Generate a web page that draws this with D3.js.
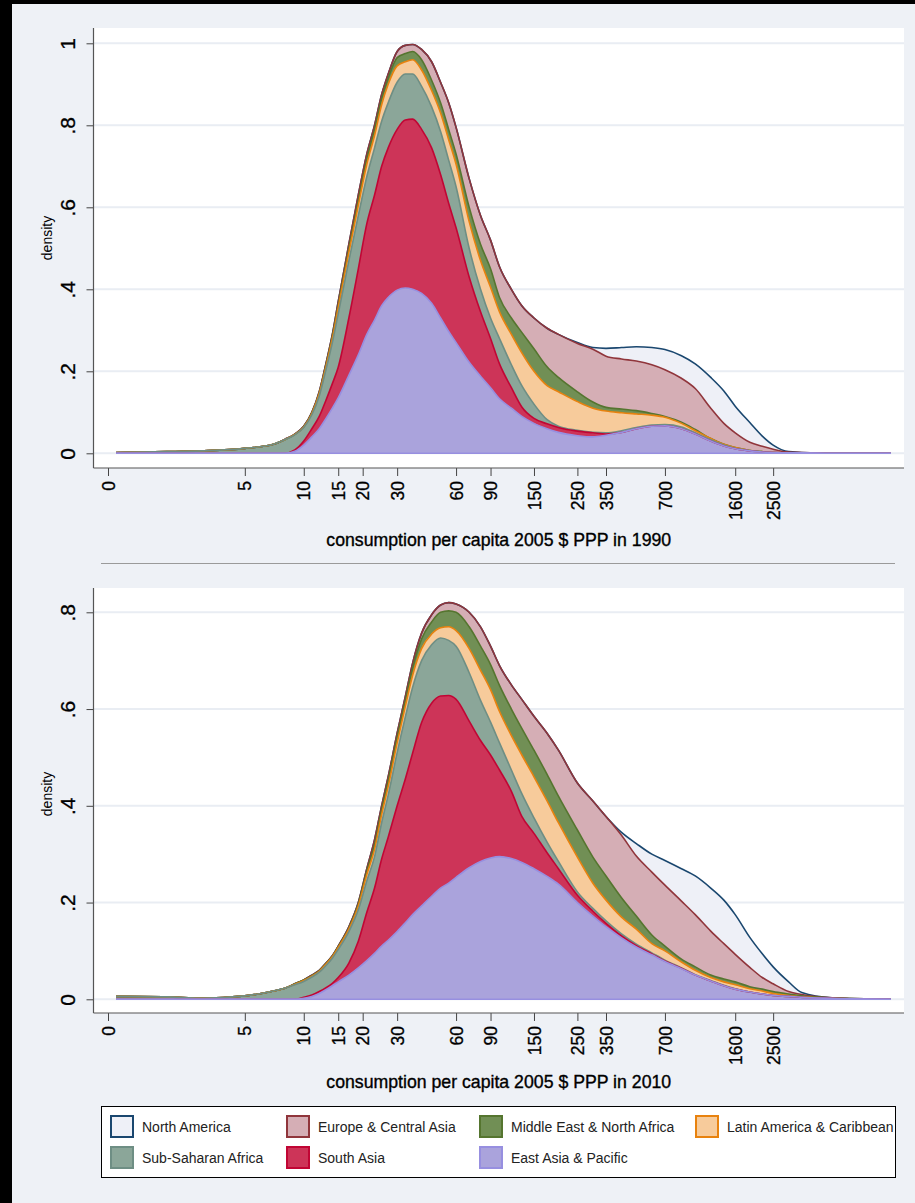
<!DOCTYPE html>
<html>
<head>
<meta charset="utf-8">
<script src="https://cdn.jsdelivr.net/npm/d3@7"></script>
<style>
body { margin: 0; background: #000; }
svg { display: block; font-family: "Liberation Sans", Arial, sans-serif; }
</style>
</head>
<body>
<svg id="chart" width="915" height="1203"></svg>
<script>
var consumption = [1.1, 2, 3, 5, 7, 8, 9, 10, 11, 12, 13, 14, 15, 17, 19, 21, 23, 25, 27, 30, 33, 36, 40, 45, 50, 55, 60,
  70, 80, 90, 100, 115, 130, 150, 175, 200, 250, 300, 350, 420, 500, 600, 700, 850, 1000,
  1200, 1400, 1600, 1900, 2200, 2500, 3000, 3500, 5000, 10000];

// stacking order, bottom to top
var regions = ["East Asia & Pacific", "South Asia", "Sub-Saharan Africa", "Latin America & Caribbean",
  "Middle East & North Africa", "Europe & Central Asia", "North America"];
var fills   = ["#aaa3dc", "#cd3458", "#8ba699", "#f7cb9b", "#718f55", "#d5aeb5", "#eef0f7"];
var strokes = ["#978fe0", "#c10534", "#6e8e84", "#e8820e", "#55752f", "#90353b", "#1a476f"];

// 1990
var eap1990  = [0,0,0,0,0,0,.005,.02,.04,.06,.085,.11,.135,.19,.24,.29,.325,.36,.38,.398,.403,.40,.39,.366,.33,.297,.27,
  .222,.188,.16,.133,.11,.09,.073,.06,.051,.043,.04,.044,.051,.06,.066,.067,.06,.047,.03,.018,.011,.006,.003,.002,.001,.001,0,0];
var sa1990   = [0,0,0,0,0,0,.003,.01,.02,.03,.045,.06,.075,.14,.21,.27,.305,.34,.365,.392,.41,.415,.40,.379,.35,.313,.28,
  .208,.157,.12,.085,.05,.023,.012,.012,.012,.011,.01,.003,0,0,0,0,0,0,0,0,0,0,0,0,0,0,0,0];
var ssa1990  = [.002,.004,.006,.012,.022,.033,.037,.033,.034,.05,.075,.10,.13,.14,.13,.115,.115,.11,.11,.115,.112,.11,.105,.10,.105,.105,.10,
  .07,.055,.05,.062,.056,.052,.035,.01,.003,.002,.001,.003,.004,.003,.003,.003,.004,.003,.003,.002,.001,.001,.001,0,0,0,0,0];
var lac1990  = [0,0,0,0,0,0,.001,.001,.003,.005,.007,.01,.015,.02,.025,.03,.03,.04,.045,.04,.03,.035,.04,.04,.045,.05,.055,
  .065,.07,.075,.065,.074,.08,.08,.083,.084,.07,.059,.053,.044,.033,.024,.018,.009,.005,.003,.002,.002,0,0,0,0,0,0,0];
var mena1990 = [0,0,0,0,0,0,0,.001,.001,.002,.004,.005,.007,.01,.012,.013,.015,.015,.015,.02,.02,.02,.025,.025,.025,.025,.025,
  .035,.04,.045,.035,.04,.05,.055,.046,.035,.024,.015,.009,.009,.008,.004,.002,.003,.003,0,0,0,0,0,0,0,0,0,0];
var eca1990  = [0,0,0,0,0,.001,.001,.001,.002,.003,.004,.005,.008,.01,.013,.012,.01,.01,.01,.015,.02,.017,.025,.045,.05,.065,.065,
  .07,.07,.07,.075,.07,.065,.075,.094,.105,.118,.129,.125,.122,.121,.119,.114,.107,.10,.074,.051,.036,.02,.013,.008,.002,.001,0,0];
var na1990   = [0,0,0,0,0,0,0,0,0,0,0,0,0,0,0,0,0,0,0,0,0,0,0,0,0,0,0,
  0,0,0,0,0,0,0,0,0,.002,.004,.019,.028,.035,.042,.049,.055,.06,.075,.079,.065,.048,.025,.01,.001,0,0,0];

// 2010
var eap2010  = [0,0,0,0,0,0,0,.002,.006,.012,.02,.028,.036,.05,.065,.08,.095,.11,.122,.14,.158,.175,.193,.213,.23,.24,.252,
  .272,.285,.292,.295,.291,.283,.27,.254,.238,.20,.172,.15,.127,.108,.092,.078,.063,.05,.038,.028,.021,.015,.011,.008,.006,.004,.002,0];
var sa2010   = [0,0,0,0,0,0,0,.002,.003,.004,.004,.005,.009,.025,.055,.10,.135,.18,.213,.26,.297,.334,.379,.399,.397,.388,.368,
  .303,.25,.213,.179,.139,.095,.073,.049,.032,.015,.01,.007,.004,.003,.002,.001,.001,0,0,0,0,0,0,0,0,0,0,0];
var ssa2010  = [.006,.005,.002,.007,.017,.023,.03,.033,.037,.04,.046,.052,.058,.065,.065,.065,.065,.075,.087,.11,.128,.136,.128,.121,.12,.114,.11,
  .10,.083,.068,.056,.044,.047,.032,.022,.015,.007,.006,.005,.004,.003,.002,.002,.001,.001,.001,.001,.001,0,0,0,0,0,0,0];
var lac2010  = [0,0,0,0,0,0,.001,.002,.002,.002,.003,.003,.004,.005,.008,.013,.015,.017,.018,.02,.022,.025,.025,.022,.021,.028,.032,
  .05,.062,.067,.065,.071,.08,.085,.085,.08,.072,.052,.043,.035,.031,.019,.019,.012,.009,.006,.007,.008,.007,.006,.004,.002,.001,0,0];
var mena2010 = [0,0,0,0,0,0,.001,.001,.001,.001,.001,.001,.002,.002,.004,.007,.01,.01,.012,.012,.012,.015,.02,.025,.032,.033,.038,
  .045,.05,.052,.054,.055,.055,.055,.055,.055,.056,.054,.05,.04,.027,.018,.01,.006,.007,.005,.006,.006,.004,.004,.004,.003,.002,.001,0];
var eca2010  = [0,0,0,0,0,0,0,0,.001,.001,.001,.001,.001,.003,.003,.005,.01,.008,.008,.008,.008,.01,.012,.015,.015,.017,.017,
  .03,.04,.038,.041,.05,.06,.07,.085,.095,.097,.116,.123,.129,.124,.13,.126,.12,.108,.091,.073,.057,.04,.024,.016,.005,.003,0,0];
var na2010   = [0,0,0,0,0,0,0,0,0,0,0,0,0,0,0,0,0,0,0,0,0,0,0,0,0,0,0,
  0,0,0,0,0,0,0,0,0,0,0,0,.006,.026,.037,.051,.067,.08,.089,.09,.082,.062,.049,.035,.02,.004,0,0];

// axis ticks
var xTickValues = [1, 5, 10, 15, 20, 30, 60, 90, 150, 250, 350, 700, 1600, 2500];
var xTickLabels = ["0", "5", "10", "15", "20", "30", "60", "90", "150", "250", "350", "700", "1600", "2500"];
var yTicks1990 = [0, .2, .4, .6, .8, 1];
var yTicks2010 = [0, .2, .4, .6, .8];

var panels = [
  {year: "1990", series: [eap1990, sa1990, ssa1990, lac1990, mena1990, eca1990, na1990],
   yMax: 1, yTicks: yTicks1990, top: 28, bottom: 468, yLo: 453.3, yHi: 43.3, titleY: 546, labelY: 238},
  {year: "2010", series: [eap2010, sa2010, ssa2010, lac2010, mena2010, eca2010, na2010],
   yMax: .8, yTicks: yTicks2010, top: 588, bottom: 1013, yLo: 999.3, yHi: 612.3, titleY: 1088, labelY: 794}
];

var W = 915, H = 1203;
var plotLeft = 93.5, plotRight = 904;

var svg = d3.select("#chart");
svg.append("rect").attr("width", W).attr("height", H).attr("fill", "#eef1f6");
// black edge of the screenshot
svg.append("rect").attr("width", W).attr("height", 4).attr("fill", "#000");
svg.append("rect").attr("width", 12).attr("height", H).attr("fill", "#000");

var x = d3.scaleLog().domain([1, 10000]).range([108, 891]);
var keys = regions.map(function(d, i) { return "k" + i; });

panels.forEach(function(p) {
  var y = d3.scaleLinear().domain([0, p.yMax]).range([p.yLo, p.yHi]);
  var g = svg.append("g");

  g.append("rect")
    .attr("x", plotLeft).attr("y", p.top)
    .attr("width", plotRight - plotLeft).attr("height", p.bottom - p.top)
    .attr("fill", "#fff");

  g.selectAll(".grid").data(p.yTicks).enter().append("line")
    .attr("x1", plotLeft).attr("x2", plotRight)
    .attr("y1", function(d) { return y(d); }).attr("y2", function(d) { return y(d); })
    .attr("stroke", "#e9edf3").attr("stroke-width", 2);

  var rows = consumption.map(function(v, i) {
    var r = {v: v};
    keys.forEach(function(k, j) { r[k] = p.series[j][i]; });
    return r;
  });
  var stacked = d3.stack().keys(keys)(rows);

  var area = d3.area()
    .x(function(d) { return x(d.data.v); })
    .y0(function(d) { return y(d[0]); })
    .y1(function(d) { return y(d[1]); })
    .curve(d3.curveMonotoneX);
  var edge = d3.line()
    .x(function(d) { return x(d.data.v); })
    .y(function(d) { return y(d[1]); })
    .curve(d3.curveMonotoneX);
  var base = d3.line()
    .x(function(d) { return x(d.data.v); })
    .y(function(d) { return y(d[0]); });

  g.selectAll(".band").data(stacked).enter().append("path")
    .attr("d", area)
    .attr("fill", function(d) { return fills[d.index]; });

  // outlines: top layer first, lower outlines end up on top
  g.selectAll(".edge").data(stacked.slice().reverse()).enter().append("path")
    .attr("d", edge)
    .attr("fill", "none")
    .attr("stroke", function(d) { return strokes[d.index]; })
    .attr("stroke-width", 1.6);
  g.append("path").datum(stacked[0])
    .attr("d", base).attr("fill", "none")
    .attr("stroke", strokes[0]).attr("stroke-width", 1.6);

  // y axis
  var yAxis = d3.axisLeft(y).tickValues(p.yTicks).tickSize(7).tickSizeOuter(0)
    .tickFormat(function(d) { return d === 0 ? "0" : d === 1 ? "1" : d3.format(".1f")(d).slice(1); });
  var ya = g.append("g").attr("transform", "translate(" + plotLeft + ",0)").call(yAxis);
  ya.select(".domain").remove();
  ya.selectAll("line").attr("stroke", "#444");
  ya.selectAll("text")
    .attr("transform", "rotate(-90)")
    .attr("text-anchor", "middle")
    .attr("x", 0).attr("y", -26).attr("dy", "0.35em")
    .attr("fill", "#000")
    .attr("stroke", "#000").attr("stroke-width", 0.3)
    .style("font-size", "21px")
    .style("font-family", "'Liberation Sans', Arial, sans-serif");

  // x axis
  var xAxis = d3.axisBottom(x).tickValues(xTickValues).tickSize(8).tickSizeOuter(0)
    .tickFormat(function(d, i) { return xTickLabels[i]; });
  var xa = g.append("g").attr("transform", "translate(0," + p.bottom + ")").call(xAxis);
  xa.select(".domain").remove();
  xa.selectAll("line").attr("stroke", "#444");
  xa.selectAll("text")
    .attr("transform", "rotate(-90)")
    .attr("text-anchor", "end")
    .attr("x", -13).attr("y", 0).attr("dy", "0.35em")
    .attr("fill", "#000")
    .attr("stroke", "#000").attr("stroke-width", 0.3)
    .style("font-size", "17.5px")
    .style("font-family", "'Liberation Sans', Arial, sans-serif");

  g.append("line")
    .attr("x1", plotLeft).attr("x2", plotLeft).attr("y1", p.top).attr("y2", p.bottom)
    .attr("stroke", "#555").attr("stroke-width", 1.2);
  g.append("line")
    .attr("x1", plotLeft).attr("x2", plotRight).attr("y1", p.bottom).attr("y2", p.bottom)
    .attr("stroke", "#555").attr("stroke-width", 1.2);

  g.append("text")
    .attr("transform", "translate(52," + p.labelY + ") rotate(-90)")
    .attr("text-anchor", "middle")
    .style("font-size", "14px")
    .text("density");

  g.append("text")
    .attr("x", (plotLeft + plotRight) / 2).attr("y", p.titleY)
    .attr("text-anchor", "middle")
    .attr("stroke", "#000").attr("stroke-width", 0.35)
    .style("font-size", "17.7px")
    .text("consumption per capita 2005 $ PPP in " + p.year);
});

// divider between the two graphs
svg.append("line")
  .attr("x1", 101).attr("x2", 895).attr("y1", 563.5).attr("y2", 563.5)
  .attr("stroke", "#9a9a9a").attr("stroke-width", 1);

// legend
var legendOrder = [6, 5, 4, 3, 2, 1, 0];
var legendCols = [110, 286, 479, 695];
var legendRows = [1126.5, 1157.5];
var lg = svg.append("g");
lg.append("rect")
  .attr("x", 101.5).attr("y", 1106.5).attr("width", 794).attr("height", 71)
  .attr("fill", "#fff").attr("stroke", "#000").attr("stroke-width", 1);
var clip = svg.append("clipPath").attr("id", "legclip");
clip.append("rect").attr("x", 102).attr("y", 1107).attr("width", 793).attr("height", 70);
var items = lg.append("g").attr("clip-path", "url(#legclip)")
  .selectAll(".item").data(legendOrder).enter().append("g")
  .attr("transform", function(d, i) {
    return "translate(" + legendCols[i % 4] + "," + legendRows[Math.floor(i / 4)] + ")";
  });
items.append("rect")
  .attr("x", 1).attr("y", -10.5).attr("width", 22).attr("height", 21)
  .attr("fill", function(d) { return fills[d]; })
  .attr("stroke", function(d) { return strokes[d]; })
  .attr("stroke-width", 2);
items.append("text")
  .attr("x", 32).attr("y", 5)
  .style("font-size", "14px")
  .attr("fill", "#222")
  .text(function(d) { return regions[d]; });
</script>
</body>
</html>
